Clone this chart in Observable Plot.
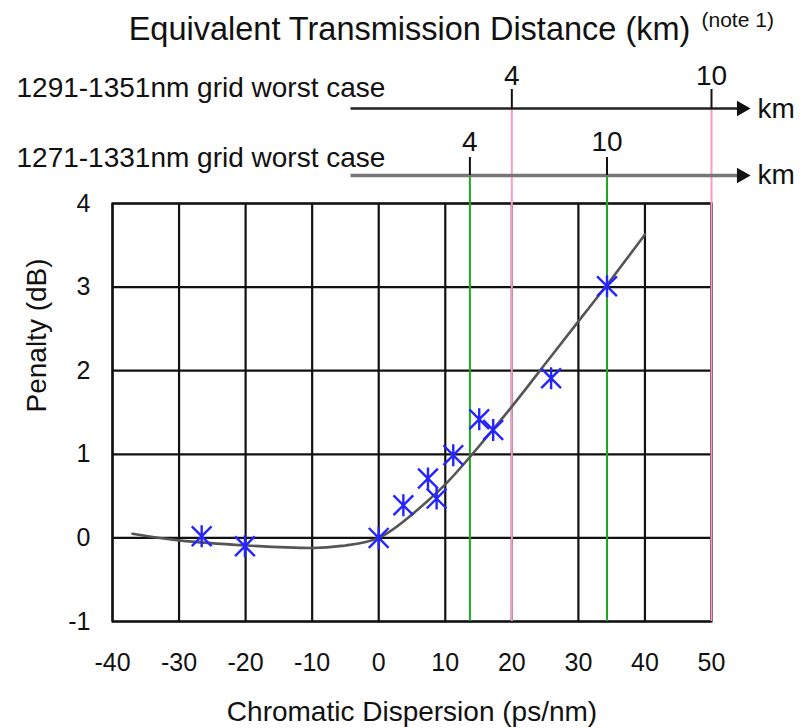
<!DOCTYPE html>
<html><head><meta charset="utf-8">
<script src="https://cdn.jsdelivr.net/npm/d3@7"></script>
<script src="https://cdn.jsdelivr.net/npm/@observablehq/plot@0.6"></script>
<style>
body{margin:0;background:#fff}
svg{font-family:"Liberation Sans",Arial,sans-serif}
</style>
</head><body><div id="chart"></div>
<script>
// ---- data ----
const xTicks = [-40,-30,-20,-10,0,10,20,30,40,50];
const yTicks = [-1,0,1,2,3,4];
const measX = [-26.6,-20.1,0,3.7,7.4,8.7,11.2,15.1,17.2,25.9,34.3];
const measY = [0.02,-0.1,0,0.39,0.71,0.47,0.99,1.42,1.29,1.91,3.01];
const fitX = [-37,-30,-20,-10,-5,0,5,10,15,20,25,30,35,40];
const fitY = [0.05,-0.03,-0.09,-0.12,-0.09,0,0.28,0.64,1.09,1.57,2.08,2.59,3.1,3.63];
const kmTicks = [4,10];
const disp1291 = [20,50];     // ps/nm equivalent of 4 km and 10 km
const disp1271 = [13.7,34.3];
const rowLabels = ["1291-1351nm grid worst case","1271-1331nm grid worst case"];
const title = "Equivalent Transmission Distance (km)";
const note = "(note 1)";

const points = measX.map((x,i)=>({x, y: measY[i]}));
const fit = fitX.map((x,i)=>({x, y: fitY[i]}));
const row1 = kmTicks.map((k,i)=>({km:k, x: disp1291[i]}));
const row2 = kmTicks.map((k,i)=>({km:k, x: disp1271[i]}));

// ---- layout (pixel -> data helpers for annotations outside the frame) ----
const W = 803, H = 728, mL = 112, mR = 92, mT = 203, mB = 107;
const X = p => -40 + (p - mL) * 90 / (W - mL - mR);
const Y = p => 4 - (p - mT) * 5 / (H - mT - mB);

const asterisk = {draw(ctx, size){
  const r = Math.sqrt(size / Math.PI), d = r * 0.9;
  ctx.moveTo(0,-r); ctx.lineTo(0,r);
  ctx.moveTo(-d,-d); ctx.lineTo(d,d);
  ctx.moveTo(-d,d); ctx.lineTo(d,-d);
}};

const pink = "#f79cc4", green = "#1fa81f", blue = "#2424ff";
const F = 25, FL = 28;

const chart = Plot.plot({
  width: W, height: H,
  marginLeft: mL, marginRight: mR, marginTop: mT, marginBottom: mB,
  x: {domain: [-40, 50], axis: null},
  y: {domain: [-1, 4], axis: null},
  marks: [
    Plot.ruleX(xTicks, {x: d=>d, stroke: "#111", strokeWidth: 2.2}),
    Plot.ruleY(yTicks, {y: d=>d, stroke: "#111", strokeWidth: 2.2}),
    Plot.frame({stroke: "#111", strokeWidth: 2.2}),
    // equivalent-distance reference lines
    Plot.ruleX(row1, {x: "x", y1: -1, y2: Y(108), stroke: pink, strokeWidth: 2}),
    Plot.ruleX(row2, {x: "x", y1: -1, y2: Y(175), stroke: green, strokeWidth: 2}),
    // fitted curve
    Plot.line(fit, {x: "x", y: "y", curve: "natural", stroke: "#555", strokeWidth: 2.6}),
    // measurements
    Plot.dot(points, {x: "x", y: "y", symbol: asterisk, r: 11, stroke: blue, strokeWidth: 2.4, fill: "none"}),
    // tick labels
    Plot.text(xTicks, {x: d=>d, y: -1, dy: 41, text: d=>String(d), fontSize: F, fill: "#111", lineAnchor: "middle"}),
    Plot.text(yTicks, {x: -40, y: d=>d, dx: -22, text: d=>String(d), fontSize: F, fill: "#111", textAnchor: "end"}),
    // axis titles
    Plot.text([ "Chromatic Dispersion (ps/nm)" ], {frameAnchor: "bottom", dy: 91, fontSize: FL, fill: "#111", lineAnchor: "middle"}),
    Plot.text([ "Penalty (dB)" ], {frameAnchor: "left", dx: -75, rotate: -90, fontSize: FL, fill: "#111"}),
    // top km axes
    Plot.link([0], {x1: X(350), x2: X(740), y1: Y(108), y2: Y(108), stroke: "#222", strokeWidth: 2.6}),
    Plot.link([0], {x1: X(350), x2: X(740), y1: Y(175), y2: Y(175), stroke: "#777", strokeWidth: 3.6}),
    Plot.dot([0,1], {x: X(741), y: i => i ? Y(175) : Y(108), symbol: "triangle2", rotate: 90, r: 7.5, fill: "#111", stroke: "none"}),
    Plot.ruleX(row1, {x: "x", y1: Y(108), y2: Y(89), stroke: "#111", strokeWidth: 2}),
    Plot.ruleX(row2, {x: "x", y1: Y(175), y2: Y(157), stroke: "#111", strokeWidth: 2}),
    Plot.text(row1, {x: "x", y: Y(76), text: "km", fontSize: FL, fill: "#111"}),
    Plot.text(row2, {x: "x", y: Y(142), text: "km", fontSize: FL, fill: "#111"}),
    Plot.text(["km","km"], {x: X(757), y: (d,i) => i ? Y(175) : Y(109), text: d=>d, fontSize: FL, fill: "#111", textAnchor: "start"}),
    Plot.text(rowLabels, {x: X(16), y: (d,i) => i ? Y(158) : Y(88), text: d=>d, fontSize: FL, fill: "#111", textAnchor: "start"}),
    // title
    Plot.text([title], {x: X(409), y: Y(29), fontSize: 32.5, fill: "#111"}),
    Plot.text([note], {x: X(701), y: Y(20), fontSize: 21, fill: "#111", textAnchor: "start"})
  ]
});
document.getElementById("chart").append(chart);
</script>
</body></html>
